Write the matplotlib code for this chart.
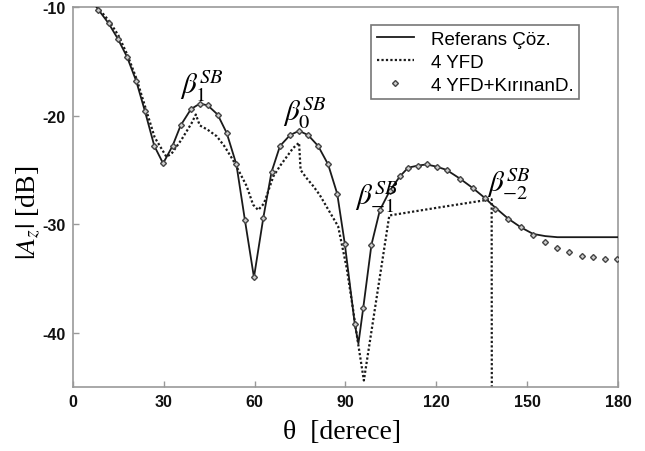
import matplotlib
matplotlib.use("Agg")
import matplotlib.pyplot as plt

plt.rcParams['mathtext.fontset'] = 'stix'

# Referans Çöz. (solid)
theta_ref = [6, 8.3, 11.8, 14.8, 17.9, 20.9, 23.8, 26.9, 29.8, 32.9,
             35.6, 39.0, 41.9, 44.5, 47.8, 50.8, 54.0, 56.8, 59.8, 62.9,
             65.6, 68.4, 71.7, 74.7, 77.7, 81.0, 84.3, 87.3, 89.8, 93.1,
             94.3, 95.9, 98.6, 101.4, 104.7, 108.0, 110.7, 114.0, 116.8, 120.1,
             123.4, 127.8, 132.2, 136.1, 139.6, 143.8, 148.0, 152.0, 156.0, 160.0,
             164.0, 168.0, 180.0]
db_ref = [-9.3, -10.2, -11.5, -12.9, -14.6, -16.8, -19.6, -22.8, -24.4, -22.8,
          -20.9, -19.4, -18.9, -19.05, -19.9, -21.6, -24.5, -29.6, -34.9, -29.4,
          -25.2, -22.8, -21.8, -21.4, -21.8, -22.8, -24.5, -27.2, -31.8, -39.2,
          -41.0, -37.7, -31.9, -28.7, -26.9, -25.6, -24.8, -24.6, -24.5, -24.7,
          -25.0, -25.8, -26.7, -27.6, -28.5, -29.5, -30.3, -30.9, -31.1, -31.2,
          -31.2, -31.2, -31.2]

# 4 YFD (dotted)
theta_yfd = [6, 9, 12, 15, 18, 21, 24, 27, 30.9, 32.6,
             35.9, 39.2, 40.6, 41.9, 44.5, 47.5, 50.0, 52.9, 55.0, 57.4,
             59.5, 61.2, 63.1, 66.2, 68.5, 70.6, 72.7, 74.7, 75.2, 77.0,
             79.4, 81.5, 83.8, 87.6, 90.4, 92.5, 93.7, 96.1, 104.5, 120.0,
             138.3, 138.4]
db_yfd = [-9.1, -10.3, -11.3, -12.6, -14.4, -16.6, -19.3, -22.0, -23.8, -23.5,
          -22.2, -20.7, -19.9, -20.9, -21.3, -21.9, -22.8, -24.1, -25.2, -26.5,
          -28.2, -28.7, -28.1, -25.6, -24.6, -23.8, -23.0, -22.5, -25.0, -25.7,
          -26.5, -27.3, -28.4, -30.2, -34.0, -37.8, -40.1, -44.4, -29.2, -28.5,
          -27.7, -60.0]

# 4 YFD+KırınanD. (diamonds)
theta_kd = [8.3, 11.8, 14.8, 17.9, 20.9, 23.8, 26.9, 29.8, 32.9, 35.6,
            39.0, 41.9, 44.5, 47.8, 50.8, 54.0, 56.8, 59.8, 62.9, 65.6,
            68.4, 71.7, 74.7, 77.7, 81.0, 84.3, 87.3, 89.8, 93.1, 95.9,
            98.6, 101.4, 104.7, 108.0, 110.7, 114.0, 116.8, 120.1, 123.4, 127.8,
            132.2, 136.1, 139.4, 143.8, 148.0, 151.8, 155.9, 159.9, 163.9, 168.0,
            171.8, 175.9, 179.8]
db_kd = [-10.3, -11.5, -12.9, -14.6, -16.8, -19.6, -22.8, -24.4, -22.8, -20.9,
         -19.4, -18.9, -19.05, -19.9, -21.6, -24.5, -29.6, -34.9, -29.4, -25.2,
         -22.8, -21.8, -21.4, -21.8, -22.8, -24.5, -27.2, -31.8, -39.2, -37.7,
         -31.9, -28.7, -26.9, -25.6, -24.8, -24.6, -24.5, -24.7, -25.0, -25.8,
         -26.7, -27.6, -28.6, -29.5, -30.3, -31.0, -31.6, -32.2, -32.6, -32.9,
         -33.0, -33.2, -33.2]

xticks = [0, 30, 60, 90, 120, 150, 180]
yticks = [-10, -20, -30, -40]
ytick_labels = ['-10', '-20', '-30', '-40']

labels = ['Referans Çöz.', '4 YFD', '4 YFD+KırınanD.']

# annotations: (text, theta, dB)
ann_text = [r'$\beta_1^{SB}$', r'$\beta_0^{SB}$', r'$\beta_{-1}^{SB}$', r'$\beta_{-2}^{SB}$']
ann_theta = [35.3, 69.4, 93.1, 136.7]
ann_db = [-18.8, -21.3, -29.1, -27.9]

fig = plt.figure(figsize=(6.45, 4.52), dpi=100)
ax = fig.add_axes([0.113, 0.1416, 0.845, 0.8406])

ax.plot(theta_ref, db_ref, '-', color='#1a1a1a', lw=1.3, label=labels[0], zorder=3)
ax.plot(theta_yfd, db_yfd, linestyle=(0, (1, 1)), color='#1a1a1a', lw=1.6, label=labels[1], zorder=2)
ax.plot(theta_kd, db_kd, linestyle='none', marker='D', ms=3.0, mfc='#cccccc',
        mec='#444444', mew=1.0, label=labels[2], zorder=4)

ax.set_xlim(0, 180)
ax.set_ylim(-45, -10)
ax.set_xticks(xticks)
ax.set_yticks(yticks)
ax.set_yticklabels(ytick_labels)
ax.tick_params(direction='in', length=4, color='#999999', width=1, pad=5)
for lab in ax.get_xticklabels() + ax.get_yticklabels():
    lab.set_fontfamily('Liberation Sans')
    lab.set_fontweight('bold')
    lab.set_fontsize(11.5)
    lab.set_color('#111111')
for s in ax.spines.values():
    s.set_color('#999999')
    s.set_linewidth(1.2)

for t, x, y in zip(ann_text, ann_theta, ann_db):
    ax.text(x, y, t, fontsize=21, ha='left', va='bottom', color='black', zorder=5)

leg = ax.legend(loc='upper left', bbox_to_anchor=(0.547, 0.952),
                prop={'family': 'Liberation Sans', 'size': 13.5},
                frameon=True, fancybox=False, edgecolor='#777777', framealpha=1,
                handlelength=2.0, handletextpad=0.9, labelspacing=0.3,
                borderpad=0.3, borderaxespad=0, numpoints=1)
leg.get_frame().set_linewidth(1.2)

fig.text(342 / 645, 1 - 433 / 452, 'θ  [derece]', family='Liberation Serif',
         fontsize=20, ha='center', va='center')
fig.text(28 / 645, 1 - 213 / 452, r'$|A_z|$ [dB]', family='Liberation Serif',
         fontsize=20, ha='center', va='center', rotation=90)

fig.savefig('out.png', dpi=100)
